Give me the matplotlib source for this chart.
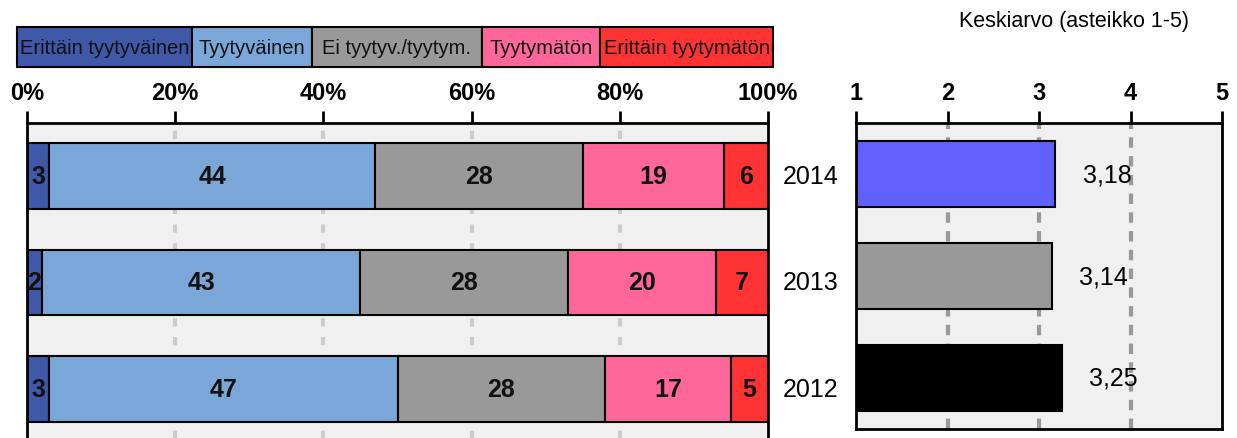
import matplotlib.pyplot as plt
from matplotlib.patches import Rectangle

plt.rcParams['font.family'] = ['Liberation Sans', 'DejaVu Sans']

years = ['2014', '2013', '2012']
categories = ['Erittäin tyytyväinen', 'Tyytyväinen', 'Ei tyytyv./tyytym.',
              'Tyytymätön', 'Erittäin tyytymätön']
colors = ['#3f58a8', '#7ba7d8', '#999999', '#ff6699', '#ff3333']
shares = [
    [3, 44, 28, 19, 6],
    [2, 43, 28, 20, 7],
    [3, 47, 28, 17, 5],
]
means = [3.18, 3.14, 3.25]
mean_labels = ['3,18', '3,14', '3,25']
mean_colors = ['#6060ff', '#999999', '#000000']
pct_ticks = [0, 20, 40, 60, 80, 100]
scale_ticks = [1, 2, 3, 4, 5]

fig = plt.figure(figsize=(12.37, 4.39), dpi=100)

# left: stacked percentages
ax = fig.add_axes([27 / 1237, -4 / 439, 741 / 1237, 319 / 439])
ax.set_facecolor('#f0f0f0')
for x in pct_ticks[1:-1]:
    ax.axvline(x, color='#cccccc', lw=3, ls=(0, (2, 2.5)), zorder=0)
for i, row in enumerate(shares):
    left = 0
    for j, v in enumerate(row):
        ax.barh(i, v, left=left, height=0.62, color=colors[j],
                edgecolor='black', lw=1.5, zorder=2)
        ax.text(left + v / 2, i, str(v), ha='center', va='center',
                fontsize=18, fontweight='bold', color='#111111', zorder=3)
        left += v
    ax.text(102, i, years[i], ha='left', va='center', fontsize=18,
            clip_on=False)
ax.set_xlim(0, 100)
ax.set_ylim(2.5, -0.5)
ax.set_yticks([])
ax.xaxis.tick_top()
ax.set_xticks(pct_ticks)
ax.set_xticklabels([f'{t}%' for t in pct_ticks], fontsize=17, fontweight='bold')
ax.tick_params(axis='x', length=9, width=2, pad=5)
for s in ax.spines.values():
    s.set_linewidth(2)

# right: means
ax2 = fig.add_axes([856 / 1237, 9 / 439, 366 / 1237, 306 / 439])
ax2.set_facecolor('#f0f0f0')
for x in scale_ticks[1:-1]:
    ax2.axvline(x, color='#999999', lw=3, ls=(0, (2.5, 2)), zorder=0)
for i, m in enumerate(means):
    ax2.barh(i, m - 1, left=1, height=0.64, color=mean_colors[i],
             edgecolor='black', lw=1.5, zorder=2)
    ax2.text(m + 0.3, i, mean_labels[i], ha='left', va='center',
             fontsize=18, zorder=3)
ax2.set_xlim(1, 5)
ax2.set_ylim(2.5, -0.5)
ax2.set_yticks([])
ax2.xaxis.tick_top()
ax2.set_xticks(scale_ticks)
ax2.set_xticklabels([str(t) for t in scale_ticks], fontsize=17, fontweight='bold')
ax2.tick_params(axis='x', length=9, width=2, pad=5)
for s in ax2.spines.values():
    s.set_linewidth(2)

fig.text(1074 / 1237, 1 - 22 / 439, 'Keskiarvo (asteikko 1-5)', ha='center',
         va='center', fontsize=15.5)

# legend strip
edges = [17, 192, 312, 482, 600, 773]
for j, name in enumerate(categories):
    x0 = edges[j] / 1237
    w = (edges[j + 1] - edges[j]) / 1237
    fig.patches.append(Rectangle((x0, 1 - 68 / 439), w, 40 / 439,
                                 transform=fig.transFigure,
                                 facecolor=colors[j], edgecolor='black', lw=1.5))
    fig.text(x0 + w / 2, 1 - 48 / 439, name, ha='center', va='center',
             fontsize=14.5, color='#111111')

fig.savefig('out.png', dpi=100)
